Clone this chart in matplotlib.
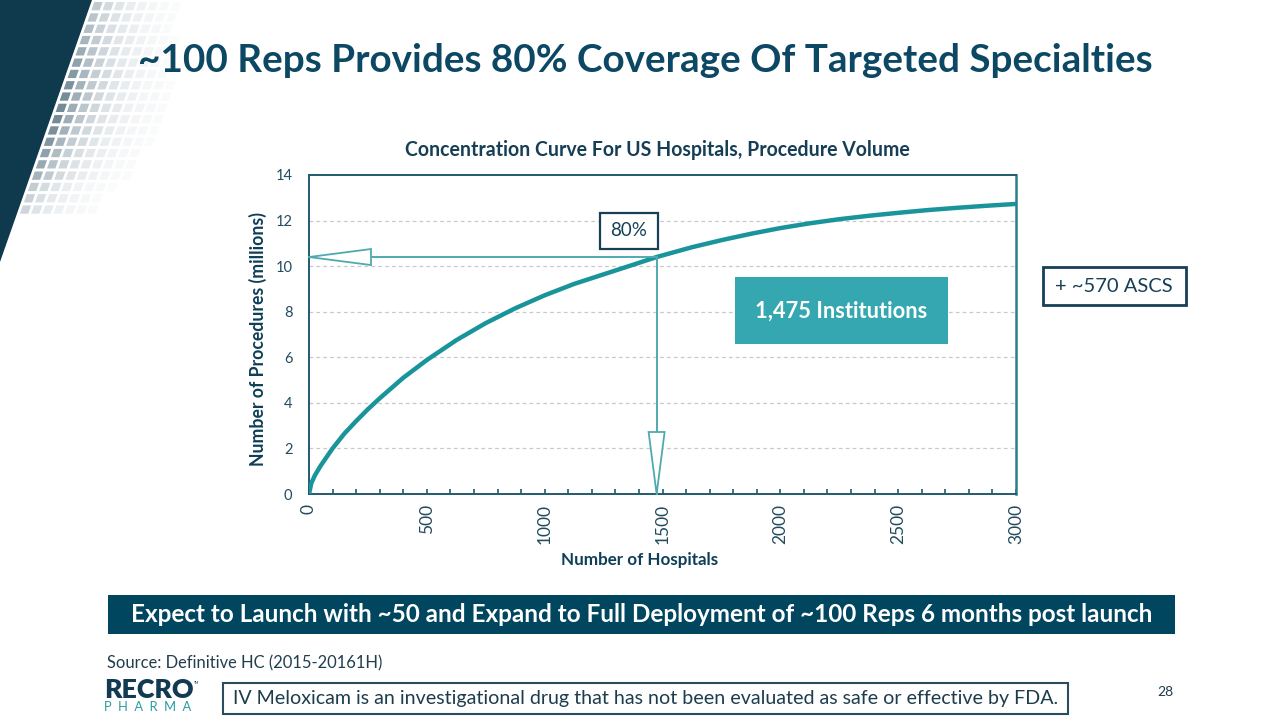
import matplotlib
matplotlib.use("Agg")
import matplotlib.pyplot as plt
import numpy as np
from matplotlib.patches import Rectangle, Polygon
from matplotlib.ticker import MultipleLocator, FixedLocator
from matplotlib.colors import to_rgb
from matplotlib.transforms import ScaledTranslation

# ---------------- data ----------------
hospitals = [0, 10, 25, 50, 100, 150, 200, 250, 300, 400, 500, 625, 750, 875, 1000,
             1125, 1250, 1375, 1475, 1625, 1750, 1875, 2000, 2125, 2250, 2375, 2500,
             2625, 2750, 2875, 3000]
procedures = [0, 0.48, 0.82, 1.25, 2.0, 2.65, 3.2, 3.72, 4.2, 5.1, 5.88, 6.75, 7.5, 8.15,
              8.72, 9.22, 9.64, 10.06, 10.4, 10.83, 11.14, 11.42, 11.67, 11.88, 12.06,
              12.21, 12.34, 12.46, 12.56, 12.65, 12.73]
coverage_hospitals = 1475
coverage_label = "80%"
y_ticks = [0, 2, 4, 6, 8, 10, 12, 14]
x_ticks = [0, 500, 1000, 1500, 2000, 2500, 3000]

title = "~100 Reps Provides 80% Coverage Of Targeted Specialties"
chart_title = "Concentration Curve For US Hospitals, Procedure Volume"
y_label = "Number of Procedures (millions)"
x_label = "Number of Hospitals"
institutions_label = "1,475 Institutions"
ascs_label = "+ ~570 ASCS"
banner_text = "Expect to Launch with ~50 and Expand to Full Deployment of ~100 Reps 6 months post launch"
source_text = "Source: Definitive HC (2015-20161H)"
disclaimer = "IV Meloxicam is an investigational drug that has not been evaluated as safe or effective by FDA."
page_no = "28"

# ---------------- style ----------------
FONT = ["Lato", "DejaVu Sans"]
plt.rcParams["font.family"] = FONT
NAVY = "#0c4863"
DARK = "#163f55"
TEAL = "#1a949b"
ARROW = "#4eaab0"
BOXTEAL = "#35a7b0"
PANEL = "#0f3a4e"

W, H = 1280, 720
fig = plt.figure(figsize=(W / 100, H / 100), dpi=100)
bg = fig.add_axes([0, 0, 1, 1], zorder=0)
ov = fig.add_axes([0, 0, 1, 1], zorder=10)
for a in (bg, ov):
    a.set_xlim(0, W)
    a.set_ylim(H, 0)
    a.axis("off")
    a.set_facecolor("none")
renderer = fig.canvas.get_renderer()


def fit(t, width=None, height=None):
    bb = t.get_window_extent(renderer)
    if width is not None:
        t.set_fontsize(t.get_fontsize() * width / bb.width)
    else:
        t.set_fontsize(t.get_fontsize() * height / bb.height)
    return t


# ---------------- decorative left panel ----------------
def edge_x(y):
    return 92 * (1 - y / 262)


bg.add_patch(Polygon([(0, 0), (edge_x(0), 0), (edge_x(262), 262), (0, 264)],
                     closed=True, fc=PANEL, ec="none", zorder=2))
base = np.array(to_rgb("#5a7585"))
white = np.array([1, 1, 1])
for r in range(19):
    y0 = 2 + r * 11.3
    yb = y0 + 8.3
    bump = 0.3 + 0.55 * np.exp(-((y0 - 105) / 75) ** 2)
    if y0 > 175:
        bump *= 0.75
    for k in range(10):
        d = 3 + k * 11.2
        inten = bump * np.exp(-k / 2.8)
        if inten < 0.03:
            continue
        c = white * (1 - inten) + base * inten
        poly = [(edge_x(y0) + d, y0), (edge_x(y0) + d + 8.3, y0),
                (edge_x(yb) + d + 8.3, yb), (edge_x(yb) + d, yb)]
        bg.add_patch(Polygon(poly, closed=True, fc=c, ec="none", zorder=1))

# ---------------- titles ----------------
t = bg.text(645, 61, title, ha="center", va="center", fontsize=30,
            fontweight="bold", color=NAVY)
fit(t, width=1012)
t = bg.text(657, 150, chart_title, ha="center", va="center", fontsize=13,
            fontweight="bold", color=DARK)
fit(t, width=504)

# ---------------- chart ----------------
ax = fig.add_axes([309 / W, 1 - 494 / H, (1016 - 309) / W, (494 - 175) / H], zorder=3)
ax.set_facecolor("none")
ax.plot(hospitals, procedures, color=TEAL, lw=3.2, solid_capstyle="butt", zorder=4)
ax.set_xlim(0, 3000)
ax.set_ylim(0, 14)
ax.yaxis.set_major_locator(FixedLocator(y_ticks))
ax.xaxis.set_major_locator(FixedLocator(x_ticks))
ax.xaxis.set_minor_locator(MultipleLocator(100))
for yv in y_ticks[1:-1]:
    ax.axhline(yv, color="#c9c9c9", lw=0.9, ls=(0, (3, 2.5)), zorder=1)
for s in ax.spines.values():
    s.set_color("#1f5b6c")
    s.set_linewidth(1.4)
ax.spines["right"].set_color("#2a7f89")
ax.spines["right"].set_linewidth(1.8)
ax.tick_params(axis="y", length=0, pad=12, labelsize=10.5, labelcolor="#224b5e")
ax.tick_params(axis="x", which="both", direction="in", length=3.8, width=1.2,
               color="#1f5b6c", pad=7, labelsize=12.5, labelcolor="#224b5e",
               labelrotation=90)
ax.set_xticklabels([str(v) for v in x_ticks])

# 80% guide lines with open triangular heads
cy = procedures[hospitals.index(coverage_hospitals)]
ax.plot([0, coverage_hospitals], [cy, cy], color=ARROW, lw=1.4, zorder=5, clip_on=False)
ax.plot([coverage_hospitals, coverage_hospitals], [0, cy], color=ARROW, lw=1.4,
        zorder=5, clip_on=False)
hl, hw = 0.62, 0.08  # inches
tri_h = Polygon([(0, 0), (hl, hw), (hl, -hw)], closed=True, fc="white", ec=ARROW,
                lw=1.3, zorder=6, clip_on=False,
                transform=fig.dpi_scale_trans + ScaledTranslation(0, cy, ax.transData))
tri_v = Polygon([(0, 0), (hw, hl), (-hw, hl)], closed=True, fc="white", ec=ARROW,
                lw=1.3, zorder=6, clip_on=False,
                transform=fig.dpi_scale_trans + ScaledTranslation(coverage_hospitals, 0,
                                                                   ax.transData))
ax.add_patch(tri_h)
ax.add_patch(tri_v)

# axis labels
t = bg.text(258, 339, y_label, ha="center", va="center", rotation=90, fontsize=12,
            fontweight="bold", color="#0f3f57")
fit(t, height=252)
t = bg.text(640, 560, x_label, ha="center", va="center", fontsize=12,
            fontweight="bold", color="#0f3f57")
fit(t, width=157)

# 80% box
ov.add_patch(Rectangle((600, 213), 58, 36, fc="white", ec="#173f55", lw=1.6, zorder=6))
t = ov.text(629, 231, coverage_label, ha="center", va="center", fontsize=14,
            color="#173f55", zorder=7)
fit(t, width=37)

# institutions box
ov.add_patch(Rectangle((735, 277), 213, 67, fc=BOXTEAL, ec="none", zorder=6))
t = ov.text(841.5, 311, institutions_label, ha="center", va="center", fontsize=14,
            fontweight="bold", color="white", zorder=7)
fit(t, width=173)

# ASCS box
ov.add_patch(Rectangle((1043, 267), 143, 38, fc="white", ec="#173f55", lw=2, zorder=6))
t = ov.text(1114, 287, ascs_label, ha="center", va="center", fontsize=14,
            color="#173f55", zorder=7)
fit(t, width=118)

# banner
ov.add_patch(Rectangle((108, 595), 1067, 39, fc="#00465f", ec="none", zorder=6))
t = ov.text(642, 614.5, banner_text, ha="center", va="center", fontsize=14,
            fontweight="bold", color="white", zorder=7)
fit(t, width=1031)

# source
t = bg.text(107, 663, source_text, ha="left", va="center", fontsize=11,
            color="#203e4e")
fit(t, width=276)

# logo
t = bg.text(104, 690, "RECRO", ha="left", va="center", fontsize=13,
            fontweight="heavy", color="#123a52")
fit(t, width=89)
bg.text(194, 683, "TM", ha="left", va="center", fontsize=2.5, color="#123a52")
t = bg.text(104, 707, "P  H  A  R  M  A", ha="left", va="center", fontsize=6,
            color="#2a9ca5")
fit(t, width=88)

# disclaimer
ov.add_patch(Rectangle((223, 683), 845, 31, fc="white", ec="#2a4d5e", lw=1.5, zorder=6))
t = ov.text(646, 698.5, disclaimer, ha="center", va="center", fontsize=13,
            color="#1d3c4c", zorder=7)
fit(t, width=823)

bg.text(1173, 692, page_no, ha="right", va="center", fontsize=10, color="#1d3c4c")

fig.savefig("out.png", dpi=100)
